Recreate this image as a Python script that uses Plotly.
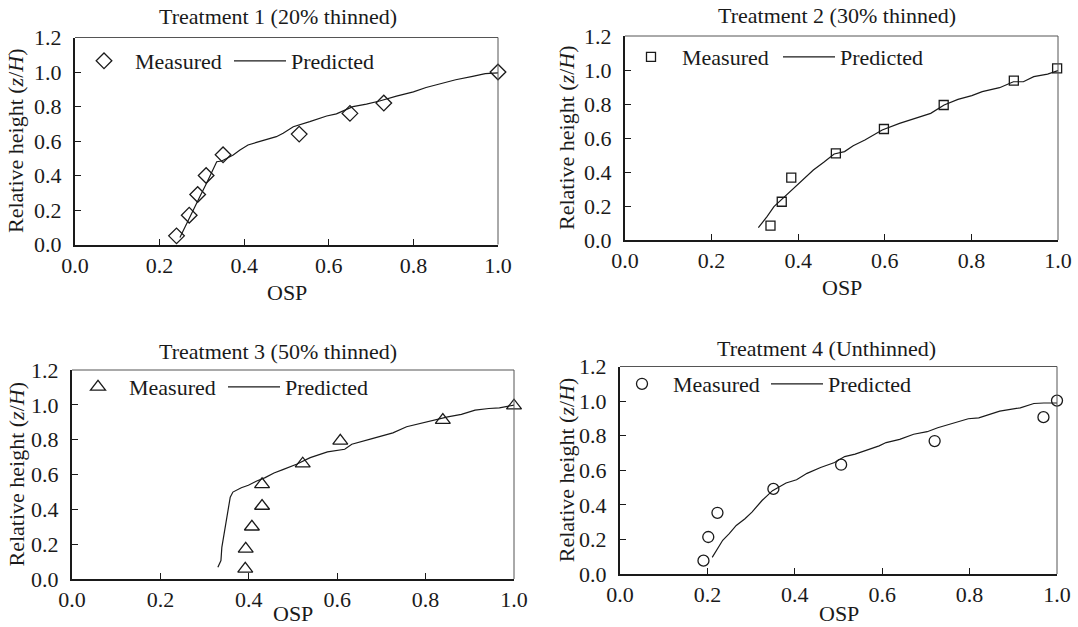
import plotly.graph_objects as go

W, H = 1078, 627
FONT = "Liberation Serif, Times New Roman, serif"
INK = "#1a1a1a"
FS = 22

titles = ["Treatment 1 (20% thinned)", "Treatment 2 (30% thinned)",
          "Treatment 3 (50% thinned)", "Treatment 4 (Unthinned)"]
symbols = ["diamond-open", "square-open", "triangle-up-open", "circle-open"]
msizes = [12, 9, 13, 11]

# Treatment 1
t1_meas_x = [0.24, 0.27, 0.29, 0.31, 0.35, 0.53, 0.65, 0.73, 1.00]
t1_meas_y = [0.05, 0.17, 0.29, 0.40, 0.52, 0.64, 0.76, 0.82, 1.00]
t1_pred_x = [0.248, 0.264, 0.279, 0.295, 0.311, 0.323, 0.331, 0.335, 0.347, 0.374,
             0.390, 0.409, 0.429, 0.453, 0.476, 0.492, 0.516, 0.555, 0.595, 0.618,
             0.642, 0.657, 0.689, 0.720, 0.760, 0.800, 0.830, 0.860, 0.900, 0.940,
             0.970, 1.000]
t1_pred_y = [0.040, 0.123, 0.200, 0.277, 0.355, 0.422, 0.461, 0.480, 0.484, 0.519,
             0.548, 0.577, 0.592, 0.610, 0.625, 0.645, 0.683, 0.712, 0.745, 0.757,
             0.780, 0.799, 0.814, 0.832, 0.860, 0.885, 0.910, 0.930, 0.955, 0.975,
             0.990, 0.995]

# Treatment 2
t2_meas_x = [0.336, 0.362, 0.384, 0.487, 0.598, 0.736, 0.898, 0.998]
t2_meas_y = [0.084, 0.225, 0.367, 0.510, 0.653, 0.794, 0.937, 1.010]
t2_pred_x = [0.308, 0.328, 0.344, 0.356, 0.379, 0.411, 0.435, 0.459, 0.483, 0.507,
             0.527, 0.554, 0.594, 0.634, 0.666, 0.682, 0.706, 0.737, 0.769, 0.801,
             0.825, 0.865, 0.897, 0.920, 0.944, 0.976, 1.000]
t2_pred_y = [0.073, 0.137, 0.196, 0.225, 0.275, 0.353, 0.412, 0.457, 0.506, 0.520,
             0.555, 0.588, 0.647, 0.686, 0.712, 0.729, 0.745, 0.794, 0.827, 0.849,
             0.873, 0.896, 0.931, 0.931, 0.961, 0.976, 0.996]

# Treatment 3
t3_meas_x = [0.392, 0.393, 0.407, 0.430, 0.430, 0.522, 0.607, 0.839, 1.000]
t3_meas_y = [0.058, 0.173, 0.300, 0.419, 0.543, 0.662, 0.793, 0.912, 0.995]
t3_pred_x = [0.330, 0.337, 0.339, 0.344, 0.348, 0.354, 0.358, 0.364, 0.383, 0.399,
             0.418, 0.437, 0.457, 0.477, 0.508, 0.539, 0.578, 0.617, 0.633, 0.679,
             0.726, 0.757, 0.803, 0.850, 0.881, 0.912, 0.943, 0.967, 1.000]
t3_pred_y = [0.067, 0.106, 0.182, 0.259, 0.336, 0.413, 0.470, 0.499, 0.524, 0.538,
             0.563, 0.582, 0.609, 0.628, 0.659, 0.697, 0.730, 0.745, 0.774, 0.806,
             0.839, 0.874, 0.902, 0.931, 0.945, 0.970, 0.979, 0.983, 0.998]

# Treatment 4
t4_meas_x = [0.191, 0.202, 0.223, 0.351, 0.506, 0.720, 0.969, 1.000]
t4_meas_y = [0.077, 0.214, 0.354, 0.492, 0.632, 0.769, 0.907, 1.003]
t4_pred_x = [0.211, 0.223, 0.235, 0.250, 0.266, 0.286, 0.302, 0.325, 0.349, 0.380,
             0.404, 0.428, 0.459, 0.491, 0.514, 0.538, 0.569, 0.593, 0.609, 0.640,
             0.672, 0.703, 0.727, 0.758, 0.797, 0.821, 0.869, 0.916, 0.947, 0.970,
             1.000]
t4_pred_y = [0.096, 0.147, 0.195, 0.233, 0.281, 0.320, 0.358, 0.425, 0.482, 0.526,
             0.545, 0.582, 0.616, 0.645, 0.679, 0.693, 0.718, 0.741, 0.760, 0.779,
             0.808, 0.823, 0.846, 0.871, 0.898, 0.903, 0.942, 0.961, 0.986, 0.989,
             0.989]

meas_x = [t1_meas_x, t2_meas_x, t3_meas_x, t4_meas_x]
meas_y = [t1_meas_y, t2_meas_y, t3_meas_y, t4_meas_y]
pred_x = [t1_pred_x, t2_pred_x, t3_pred_x, t4_pred_x]
pred_y = [t1_pred_y, t2_pred_y, t3_pred_y, t4_pred_y]

x_ticks = [0.0, 0.2, 0.4, 0.6, 0.8, 1.0]
y_ticks = [0.0, 0.2, 0.4, 0.6, 0.8, 1.0, 1.2]

# plot-area boxes in pixels: (left, right, top, bottom)
boxes = [(75, 498, 37.5, 244.5), (625, 1058, 36, 240),
         (72, 514, 370, 579), (620, 1057, 366.5, 574)]
title_y = [17, 16, 351, 348]
title_dx = [-9, -5, -15, -12]
osp_y = [292, 288, 613, 613]
ytitle_x = [16, 566, 16, 566]
# legend anchor x for "Measured" and "Predicted" entries, and legend centre y
leg_meas_x = [73, 620, 67, 611]
leg_pred_x = [229, 778, 223, 766]
leg_y = [61, 57, 387, 384]

fig = go.Figure()
layout = dict(width=W, height=H, margin=dict(l=0, r=0, t=0, b=0, pad=0),
              autosize=False, showlegend=True,
              paper_bgcolor="white", plot_bgcolor="white",
              font=dict(family=FONT, size=FS, color=INK),
              annotations=[], shapes=[])

for i in range(4):
    sfx = "" if i == 0 else str(i + 1)
    xa, ya = "x" + sfx, "y" + sfx
    lg_m = "legend" + ("" if i == 0 else str(2 * i + 1))
    lg_p = "legend" + str(2 * i + 2)
    L, R, T, B = boxes[i]
    fig.add_trace(go.Scatter(x=meas_x[i], y=meas_y[i], mode="markers", name="Measured",
                             xaxis=xa, yaxis=ya, legend=lg_m, cliponaxis=False,
                             showlegend=True,
                             marker=dict(symbol=symbols[i], size=msizes[i], color=INK,
                                         line=dict(color=INK, width=1.3))))
    fig.add_trace(go.Scatter(x=pred_x[i], y=pred_y[i], mode="lines", name="Predicted",
                             xaxis=xa, yaxis=ya, legend=lg_p, cliponaxis=False,
                             showlegend=True,
                             line=dict(color=INK, width=1.2)))
    common = dict(showgrid=False, zeroline=False, showline=True, linecolor=INK,
                  linewidth=2, ticks="inside", ticklen=6, tickwidth=1.2,
                  tickcolor=INK, tickformat=".1f", automargin=False,
                  tickfont=dict(family=FONT, size=FS, color=INK), fixedrange=True)
    layout["xaxis" + sfx] = dict(common, domain=[L / W, R / W], range=[0, 1.0],
                                 tickvals=x_ticks, anchor=ya)
    layout["yaxis" + sfx] = dict(common, domain=[1 - B / H, 1 - T / H], range=[0, 1.2],
                                 tickvals=y_ticks, anchor=xa, ticklabelstandoff=7)
    # thin top / right frame
    layout["shapes"].append(dict(type="line", xref=xa + " domain", yref=ya + " domain",
                                 x0=0, x1=1, y0=1, y1=1, line=dict(color="#555", width=1)))
    layout["shapes"].append(dict(type="line", xref=xa + " domain", yref=ya + " domain",
                                 x0=1, x1=1, y0=0, y1=1, line=dict(color="#555", width=1)))
    layout["annotations"].append(dict(text=titles[i], xref="paper", yref="paper",
                                      x=((L + R) / 2 + title_dx[i]) / W, y=1 - title_y[i] / H,
                                      xanchor="center", yanchor="middle", showarrow=False,
                                      font=dict(family=FONT, size=FS, color=INK)))
    layout["annotations"].append(dict(text="OSP", xref="paper", yref="paper",
                                      x=(L + R) / 2 / W, y=1 - osp_y[i] / H,
                                      xanchor="center", yanchor="middle", showarrow=False,
                                      font=dict(family=FONT, size=FS, color=INK)))
    layout["annotations"].append(dict(text="Relative height (<i>z</i>/<i>H</i>)",
                                      xref="paper", yref="paper", textangle=-90,
                                      x=ytitle_x[i] / W, y=1 - (T + B) / 2 / H,
                                      xanchor="center", yanchor="middle", showarrow=False,
                                      font=dict(family=FONT, size=FS, color=INK)))
    for lg, lx in ((lg_m, leg_meas_x[i]), (lg_p, leg_pred_x[i])):
        layout[lg] = dict(x=lx / W, y=1 - leg_y[i] / H, xref="paper", yref="paper",
                          xanchor="left", yanchor="middle", orientation="h",
                          bgcolor="rgba(0,0,0,0)", borderwidth=0, itemwidth=52,
                          visible=True,
                          font=dict(family=FONT, size=FS, color=INK))

fig.update_layout(**layout)
fig.write_html("out.html")
